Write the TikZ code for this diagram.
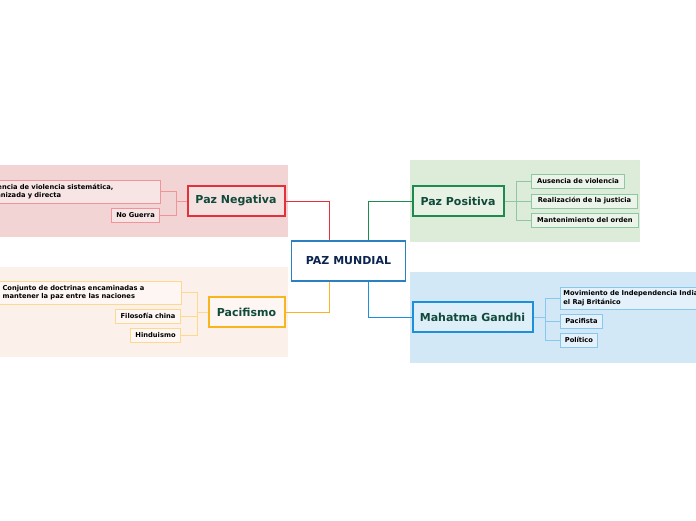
\documentclass[tikz,border=0pt]{standalone}
\usepackage{fontspec}
\setmainfont{DejaVu Sans}
\usetikzlibrary{backgrounds}
\definecolor{bandR}{HTML}{F2D4D4}
\definecolor{bandO}{HTML}{FCF0EB}
\definecolor{bandG}{HTML}{DDECD9}
\definecolor{bandB}{HTML}{D2E8F7}
\definecolor{lineR}{HTML}{E4303A}
\definecolor{lineO}{HTML}{F8B520}
\definecolor{lineG}{HTML}{1E8A50}
\definecolor{lineB}{HTML}{1E90DA}
\definecolor{subR}{HTML}{EF9498}
\definecolor{subO}{HTML}{FCD98E}
\definecolor{subG}{HTML}{8FC6A3}
\definecolor{subB}{HTML}{88C7EE}
\definecolor{center}{HTML}{2B80C2}
\definecolor{maintext}{HTML}{0F4A3A}
\definecolor{centertext}{HTML}{0B2550}
\tikzset{
  mainbox/.style={draw, line width=2pt, inner sep=0pt, font=\bfseries\fontsize{11}{13}\selectfont, text=maintext},
  subbox/.style={draw, line width=0.9pt, inner sep=0pt, font=\bfseries\fontsize{6.7}{8.4}\selectfont, text=black},
  conn/.style={line width=0.9pt},
}
\begin{document}
\begin{tikzpicture}[x=1pt,y=-1pt]
\useasboundingbox (0,0) rectangle (696,520);
\clip (0,0) rectangle (696,520);
% center
\node[draw=center, line width=1.6pt, fill=white, minimum width=114, minimum height=40, inner sep=0pt,
  font=\bfseries\fontsize{11}{13}\selectfont, text=centertext] (pm) at (348.5,261) {PAZ MUNDIAL};
% main nodes
\node[mainbox, draw=lineR, fill=bandR!70!white, minimum width=97, minimum height=30] (pn) at (236,201) {Paz Negativa};
\node[mainbox, draw=lineO, fill=bandO!60!white, minimum width=76, minimum height=30] (pf) at (246.5,312) {Pacifismo};
\node[mainbox, draw=lineG, fill=bandG!70!white, minimum width=91, minimum height=30] (pp) at (458,201) {Paz Positiva};
\node[mainbox, draw=lineB, fill=bandB!70!white, minimum width=120, minimum height=30] (mg) at (472.5,317) {Mahatma Gandhi};
% Paz Negativa children
\node[subbox, draw=subR, fill=bandR!60!white, minimum width=180, minimum height=23, anchor=east,
  text width=174, align=left] (n1) at (161,191.5) {Ausencia de violencia sistemática,\\organizada y directa};
\node[subbox, draw=subR, fill=bandR!60!white, minimum width=48, minimum height=14, anchor=east] (n2) at (160,215) {No Guerra};
% Pacifismo children
\node[subbox, draw=subO, fill=bandO!60!white, minimum width=182, minimum height=23, anchor=east,
  text width=176, align=left] (o1) at (182,292.5) {Conjunto de doctrinas encaminadas a\\mantener la paz entre las naciones};
\node[subbox, draw=subO, fill=bandO!60!white, minimum width=65, minimum height=14, anchor=east] (o2) at (181,316) {Filosofía china};
\node[subbox, draw=subO, fill=bandO!60!white, minimum width=50, minimum height=14, anchor=east] (o3) at (181,335) {Hinduismo};
% Paz Positiva children
\node[subbox, draw=subG, fill=bandG!60!white, minimum width=93, minimum height=14, anchor=west] (g1) at (531,181) {Ausencia de violencia};
\node[subbox, draw=subG, fill=bandG!60!white, minimum width=106, minimum height=14, anchor=west] (g2) at (531,201) {Realización de la justicia};
\node[subbox, draw=subG, fill=bandG!60!white, minimum width=107, minimum height=14, anchor=west] (g3) at (531,220) {Mantenimiento del orden};
% Gandhi children
\node[subbox, draw=subB, fill=bandB!60!white, minimum width=200, minimum height=22, anchor=west,
  text width=194, align=left] (b1) at (560,298) {Movimiento de Independencia India contra\\el Raj Británico};
\node[subbox, draw=subB, fill=bandB!60!white, minimum width=42, minimum height=14, anchor=west] (b2) at (560,321) {Pacifista};
\node[subbox, draw=subB, fill=bandB!60!white, minimum width=37, minimum height=14, anchor=west] (b3) at (560,340) {Político};
% junctions
\coordinate (cl1) at (329,241);
\coordinate (cr1) at (368,241);
\coordinate (cl2) at (329,281);
\coordinate (cr2) at (368,281);
\coordinate (nj) at (176,201);
\coordinate (oj) at (197,312);
\coordinate (gj) at (516,201);
\coordinate (bj) at (545,317);
\begin{scope}[on background layer]
% bands
\fill[bandR] (-5,165) rectangle (288,237);
\fill[bandO] (-5,267) rectangle (288,357);
\fill[bandG] (410,160) rectangle (640,242);
\fill[bandB] (410,272) rectangle (700,363);
% center connectors
\draw[conn, lineR] (cl1) |- (pn.east);
\draw[conn, lineG] (cr1) |- (pp.west);
\draw[conn, lineO] (cl2) |- (pf.east);
\draw[conn, lineB] (cr2) |- (mg.west);
% branches
\draw[conn, subR] (pn.west) -- (nj);
\draw[conn, subR] (nj) |- (n1.east);
\draw[conn, subR] (nj) |- (n2.east);
\draw[conn, subO] (pf.west) -- (oj);
\draw[conn, subO] (oj) |- (o1.east);
\draw[conn, subO] (oj) |- (o2.east);
\draw[conn, subO] (oj) |- (o3.east);
\draw[conn, subG] (pp.east) -- (gj);
\draw[conn, subG] (gj) |- (g1.west);
\draw[conn, subG] (gj) |- (g2.west);
\draw[conn, subG] (gj) |- (g3.west);
\draw[conn, subB] (mg.east) -- (bj);
\draw[conn, subB] (bj) |- (b1.west);
\draw[conn, subB] (bj) |- (b2.west);
\draw[conn, subB] (bj) |- (b3.west);
\end{scope}
\end{tikzpicture}
\end{document}
